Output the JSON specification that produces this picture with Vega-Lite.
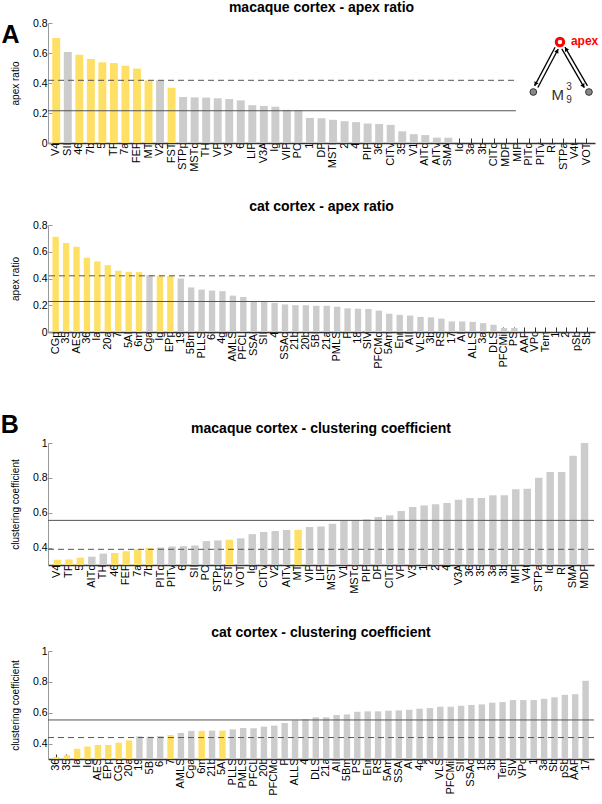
{
  "$schema": "https://vega.github.io/schema/vega-lite/v6.json",
  "padding": {"left": 0, "top": 1, "right": 0, "bottom": 0},
  "background": "#ffffff",
  "config": {
    "font": "Liberation Sans",
    "view": {"stroke": null},
    "title": {"fontSize": 14, "fontWeight": "bold", "offset": 6, "frame": "group", "color": "#000000", "font": "Liberation Sans"},
    "axisX": {"labelAngle": -90, "labelFontSize": 11, "labelPadding": 4, "tickSize": -5, "tickColor": "#333333", "domainColor": "#333333", "domainWidth": 1.5, "labelColor": "#000000", "labelFont": "Liberation Sans", "grid": false},
    "axisY": {"labelFontSize": 10.5, "labelPadding": 5, "tickSize": -4, "tickColor": "#999999", "domainColor": "#999999", "titleFontSize": 10, "titleFontWeight": "normal", "titlePadding": 12, "labelColor": "#000000", "titleColor": "#000000", "labelFont": "Liberation Sans", "titleFont": "Liberation Sans", "grid": false}
  },
  "datasets": {
    "macaque_apex": [
      {"area": "V4", "apex_ratio": 0.70, "highlight": "yes"},
      {"area": "SII", "apex_ratio": 0.607, "highlight": "no"},
      {"area": "46", "apex_ratio": 0.589, "highlight": "yes"},
      {"area": "7b", "apex_ratio": 0.56, "highlight": "yes"},
      {"area": "5", "apex_ratio": 0.538, "highlight": "yes"},
      {"area": "TF", "apex_ratio": 0.533, "highlight": "yes"},
      {"area": "7a", "apex_ratio": 0.515, "highlight": "yes"},
      {"area": "FEF", "apex_ratio": 0.496, "highlight": "yes"},
      {"area": "MT", "apex_ratio": 0.418, "highlight": "yes"},
      {"area": "V2", "apex_ratio": 0.418, "highlight": "no"},
      {"area": "FST", "apex_ratio": 0.368, "highlight": "yes"},
      {"area": "STPp", "apex_ratio": 0.307, "highlight": "no"},
      {"area": "MSTd", "apex_ratio": 0.304, "highlight": "no"},
      {"area": "TH", "apex_ratio": 0.303, "highlight": "no"},
      {"area": "VP", "apex_ratio": 0.298, "highlight": "no"},
      {"area": "V3", "apex_ratio": 0.293, "highlight": "no"},
      {"area": "6", "apex_ratio": 0.284, "highlight": "no"},
      {"area": "LIP", "apex_ratio": 0.252, "highlight": "no"},
      {"area": "V3A", "apex_ratio": 0.247, "highlight": "no"},
      {"area": "Ig", "apex_ratio": 0.242, "highlight": "no"},
      {"area": "VIP", "apex_ratio": 0.221, "highlight": "no"},
      {"area": "PO", "apex_ratio": 0.219, "highlight": "no"},
      {"area": "1", "apex_ratio": 0.167, "highlight": "no"},
      {"area": "DP", "apex_ratio": 0.165, "highlight": "no"},
      {"area": "MSTl", "apex_ratio": 0.155, "highlight": "no"},
      {"area": "2", "apex_ratio": 0.145, "highlight": "no"},
      {"area": "4", "apex_ratio": 0.139, "highlight": "no"},
      {"area": "PIP", "apex_ratio": 0.13, "highlight": "no"},
      {"area": "36", "apex_ratio": 0.127, "highlight": "no"},
      {"area": "CITv", "apex_ratio": 0.121, "highlight": "no"},
      {"area": "35", "apex_ratio": 0.078, "highlight": "no"},
      {"area": "V1", "apex_ratio": 0.059, "highlight": "no"},
      {"area": "AITd", "apex_ratio": 0.053, "highlight": "no"},
      {"area": "AITv", "apex_ratio": 0.036, "highlight": "no"},
      {"area": "SMA", "apex_ratio": 0.035, "highlight": "no"},
      {"area": "Id", "apex_ratio": 0, "highlight": "no"},
      {"area": "3a", "apex_ratio": 0, "highlight": "no"},
      {"area": "3b", "apex_ratio": 0, "highlight": "no"},
      {"area": "CITd", "apex_ratio": 0, "highlight": "no"},
      {"area": "MDP", "apex_ratio": 0, "highlight": "no"},
      {"area": "MIP", "apex_ratio": 0, "highlight": "no"},
      {"area": "PITd", "apex_ratio": 0, "highlight": "no"},
      {"area": "PITv", "apex_ratio": 0, "highlight": "no"},
      {"area": "Ri", "apex_ratio": 0, "highlight": "no"},
      {"area": "STPa", "apex_ratio": 0, "highlight": "no"},
      {"area": "V4t", "apex_ratio": 0, "highlight": "no"},
      {"area": "VOT", "apex_ratio": 0, "highlight": "no"}
    ],
    "macaque_apex_ref": [
      {"ref": "dashed", "value": 0.418, "from": 0, "to": 40.2},
      {"ref": "solid", "value": 0.215, "from": 0, "to": 40.2}
    ],
    "motif_links": [
      {"x": 41.81, "y": 0.381, "x2": 43.57, "y2": 0.638},
      {"x": 42.09, "y": 0.37, "x2": 43.84, "y2": 0.627},
      {"x": 44.15, "y": 0.627, "x2": 46.08, "y2": 0.369},
      {"x": 44.42, "y": 0.639, "x2": 46.35, "y2": 0.381}
    ],
    "motif_arrowheads": [
      {"x": 41.89, "y": 0.393, "heading": 208},
      {"x": 43.76, "y": 0.615, "heading": 28},
      {"x": 46.0, "y": 0.38, "heading": 150},
      {"x": 44.51, "y": 0.627, "heading": 330}
    ],
    "motif_nodes": [
      {"node": "apex", "x": 43.99, "y": 0.673},
      {"node": "left", "x": 41.7, "y": 0.34},
      {"node": "right", "x": 46.48, "y": 0.34}
    ],
    "motif_labels": [
      {"part": "apex", "text": "apex", "x": 44.93, "y": 0.68},
      {"part": "M", "text": "M", "x": 43.81, "y": 0.32},
      {"part": "sup", "text": "3", "x": 44.76, "y": 0.373},
      {"part": "sub", "text": "9", "x": 44.76, "y": 0.287}
    ],
    "panel_A": [{"text": "A", "x": -3.22, "y": 0.72}],
    "panel_B": [{"text": "B", "x": -3.3, "y": 1.102}],
    "cat_apex": [
      {"area": "CGp", "apex_ratio": 0.712, "highlight": "yes"},
      {"area": "35", "apex_ratio": 0.665, "highlight": "yes"},
      {"area": "AES", "apex_ratio": 0.637, "highlight": "yes"},
      {"area": "36", "apex_ratio": 0.555, "highlight": "yes"},
      {"area": "Ia", "apex_ratio": 0.528, "highlight": "yes"},
      {"area": "20a", "apex_ratio": 0.5, "highlight": "yes"},
      {"area": "7", "apex_ratio": 0.458, "highlight": "yes"},
      {"area": "5AI", "apex_ratio": 0.45, "highlight": "yes"},
      {"area": "6m", "apex_ratio": 0.448, "highlight": "yes"},
      {"area": "Cga", "apex_ratio": 0.425, "highlight": "no"},
      {"area": "Ig", "apex_ratio": 0.421, "highlight": "yes"},
      {"area": "EPp", "apex_ratio": 0.419, "highlight": "yes"},
      {"area": "19", "apex_ratio": 0.4, "highlight": "no"},
      {"area": "5Bm", "apex_ratio": 0.333, "highlight": "no"},
      {"area": "PLLS", "apex_ratio": 0.317, "highlight": "no"},
      {"area": "6l", "apex_ratio": 0.31, "highlight": "no"},
      {"area": "4g", "apex_ratio": 0.305, "highlight": "no"},
      {"area": "AMLS", "apex_ratio": 0.272, "highlight": "no"},
      {"area": "PFCL", "apex_ratio": 0.262, "highlight": "no"},
      {"area": "SSAi", "apex_ratio": 0.228, "highlight": "no"},
      {"area": "SII", "apex_ratio": 0.226, "highlight": "no"},
      {"area": "4", "apex_ratio": 0.218, "highlight": "no"},
      {"area": "SSAo", "apex_ratio": 0.206, "highlight": "no"},
      {"area": "21b", "apex_ratio": 0.201, "highlight": "no"},
      {"area": "20b", "apex_ratio": 0.2, "highlight": "no"},
      {"area": "5Bl", "apex_ratio": 0.196, "highlight": "no"},
      {"area": "21a", "apex_ratio": 0.196, "highlight": "no"},
      {"area": "PMLS", "apex_ratio": 0.189, "highlight": "no"},
      {"area": "P", "apex_ratio": 0.177, "highlight": "no"},
      {"area": "18", "apex_ratio": 0.174, "highlight": "no"},
      {"area": "SIV", "apex_ratio": 0.172, "highlight": "no"},
      {"area": "PFCMd", "apex_ratio": 0.16, "highlight": "no"},
      {"area": "5Am", "apex_ratio": 0.137, "highlight": "no"},
      {"area": "Enr", "apex_ratio": 0.128, "highlight": "no"},
      {"area": "AII", "apex_ratio": 0.123, "highlight": "no"},
      {"area": "VLS", "apex_ratio": 0.113, "highlight": "no"},
      {"area": "3b", "apex_ratio": 0.11, "highlight": "no"},
      {"area": "RS", "apex_ratio": 0.1, "highlight": "no"},
      {"area": "17", "apex_ratio": 0.079, "highlight": "no"},
      {"area": "AI", "apex_ratio": 0.079, "highlight": "no"},
      {"area": "ALLS", "apex_ratio": 0.076, "highlight": "no"},
      {"area": "3a", "apex_ratio": 0.066, "highlight": "no"},
      {"area": "DLS", "apex_ratio": 0.054, "highlight": "no"},
      {"area": "PFCMil", "apex_ratio": 0.03, "highlight": "no"},
      {"area": "PS", "apex_ratio": 0.03, "highlight": "no"},
      {"area": "AAF", "apex_ratio": 0, "highlight": "no"},
      {"area": "VPc", "apex_ratio": 0, "highlight": "no"},
      {"area": "Tem", "apex_ratio": 0, "highlight": "no"},
      {"area": "1", "apex_ratio": 0, "highlight": "no"},
      {"area": "2", "apex_ratio": 0, "highlight": "no"},
      {"area": "pSb", "apex_ratio": 0, "highlight": "no"},
      {"area": "Sb", "apex_ratio": 0, "highlight": "no"}
    ],
    "cat_apex_ref": [
      {"ref": "dashed", "value": 0.42},
      {"ref": "solid", "value": 0.228}
    ],
    "macaque_cc": [
      {"area": "V4", "clustering": 0.33, "highlight": "yes"},
      {"area": "TF", "clustering": 0.332, "highlight": "yes"},
      {"area": "5", "clustering": 0.342, "highlight": "yes"},
      {"area": "AITd", "clustering": 0.348, "highlight": "no"},
      {"area": "TH", "clustering": 0.365, "highlight": "no"},
      {"area": "46", "clustering": 0.369, "highlight": "yes"},
      {"area": "FEF", "clustering": 0.379, "highlight": "yes"},
      {"area": "7a", "clustering": 0.39, "highlight": "yes"},
      {"area": "7b", "clustering": 0.398, "highlight": "yes"},
      {"area": "PITd", "clustering": 0.4, "highlight": "no"},
      {"area": "PITv", "clustering": 0.406, "highlight": "no"},
      {"area": "6", "clustering": 0.408, "highlight": "no"},
      {"area": "SII", "clustering": 0.412, "highlight": "no"},
      {"area": "PO", "clustering": 0.437, "highlight": "no"},
      {"area": "STPp", "clustering": 0.441, "highlight": "no"},
      {"area": "FST", "clustering": 0.445, "highlight": "yes"},
      {"area": "VOT", "clustering": 0.453, "highlight": "no"},
      {"area": "Ig", "clustering": 0.477, "highlight": "no"},
      {"area": "CITv", "clustering": 0.49, "highlight": "no"},
      {"area": "V2", "clustering": 0.495, "highlight": "no"},
      {"area": "AITv", "clustering": 0.501, "highlight": "no"},
      {"area": "MT", "clustering": 0.502, "highlight": "yes"},
      {"area": "VIP", "clustering": 0.518, "highlight": "no"},
      {"area": "LIP", "clustering": 0.521, "highlight": "no"},
      {"area": "MSTl", "clustering": 0.537, "highlight": "no"},
      {"area": "V1", "clustering": 0.556, "highlight": "no"},
      {"area": "MSTd", "clustering": 0.557, "highlight": "no"},
      {"area": "PIP", "clustering": 0.562, "highlight": "no"},
      {"area": "DP", "clustering": 0.575, "highlight": "no"},
      {"area": "CITd", "clustering": 0.585, "highlight": "no"},
      {"area": "VP", "clustering": 0.61, "highlight": "no"},
      {"area": "V3", "clustering": 0.633, "highlight": "no"},
      {"area": "1", "clustering": 0.642, "highlight": "no"},
      {"area": "2", "clustering": 0.648, "highlight": "no"},
      {"area": "4", "clustering": 0.656, "highlight": "no"},
      {"area": "V3A", "clustering": 0.675, "highlight": "no"},
      {"area": "36", "clustering": 0.684, "highlight": "no"},
      {"area": "35", "clustering": 0.684, "highlight": "no"},
      {"area": "3a", "clustering": 0.7, "highlight": "no"},
      {"area": "3b", "clustering": 0.7, "highlight": "no"},
      {"area": "MIP", "clustering": 0.734, "highlight": "no"},
      {"area": "V4t", "clustering": 0.738, "highlight": "no"},
      {"area": "STPa", "clustering": 0.8, "highlight": "no"},
      {"area": "Id", "clustering": 0.834, "highlight": "no"},
      {"area": "Ri", "clustering": 0.834, "highlight": "no"},
      {"area": "SMA", "clustering": 0.927, "highlight": "no"},
      {"area": "MDP", "clustering": 1.0, "highlight": "no"}
    ],
    "macaque_cc_ref": [
      {"ref": "solid", "value": 0.556},
      {"ref": "dashed", "value": 0.39}
    ],
    "cat_cc": [
      {"area": "36", "clustering": 0.312, "highlight": "yes"},
      {"area": "35", "clustering": 0.325, "highlight": "yes"},
      {"area": "Ia", "clustering": 0.366, "highlight": "yes"},
      {"area": "Ig", "clustering": 0.381, "highlight": "yes"},
      {"area": "AES", "clustering": 0.391, "highlight": "yes"},
      {"area": "EPp", "clustering": 0.391, "highlight": "yes"},
      {"area": "CGp", "clustering": 0.406, "highlight": "yes"},
      {"area": "20a", "clustering": 0.421, "highlight": "yes"},
      {"area": "19", "clustering": 0.447, "highlight": "no"},
      {"area": "5Bl", "clustering": 0.445, "highlight": "no"},
      {"area": "6l", "clustering": 0.449, "highlight": "no"},
      {"area": "7", "clustering": 0.456, "highlight": "yes"},
      {"area": "AMLS", "clustering": 0.469, "highlight": "no"},
      {"area": "Cga", "clustering": 0.482, "highlight": "no"},
      {"area": "6m", "clustering": 0.482, "highlight": "yes"},
      {"area": "21b", "clustering": 0.484, "highlight": "no"},
      {"area": "5AI", "clustering": 0.484, "highlight": "yes"},
      {"area": "PLLS", "clustering": 0.492, "highlight": "no"},
      {"area": "PMLS", "clustering": 0.501, "highlight": "no"},
      {"area": "PFCL", "clustering": 0.499, "highlight": "no"},
      {"area": "20b", "clustering": 0.51, "highlight": "no"},
      {"area": "PFCMd", "clustering": 0.516, "highlight": "no"},
      {"area": "P", "clustering": 0.533, "highlight": "no"},
      {"area": "ALLS", "clustering": 0.551, "highlight": "no"},
      {"area": "4", "clustering": 0.559, "highlight": "no"},
      {"area": "DLS", "clustering": 0.57, "highlight": "no"},
      {"area": "21a", "clustering": 0.57, "highlight": "no"},
      {"area": "AII", "clustering": 0.585, "highlight": "no"},
      {"area": "5Bm", "clustering": 0.589, "highlight": "no"},
      {"area": "PS", "clustering": 0.606, "highlight": "no"},
      {"area": "Enr", "clustering": 0.609, "highlight": "no"},
      {"area": "RS", "clustering": 0.609, "highlight": "no"},
      {"area": "5Am", "clustering": 0.613, "highlight": "no"},
      {"area": "SSAi", "clustering": 0.615, "highlight": "no"},
      {"area": "AI", "clustering": 0.619, "highlight": "no"},
      {"area": "4g", "clustering": 0.626, "highlight": "no"},
      {"area": "2", "clustering": 0.63, "highlight": "no"},
      {"area": "VLS", "clustering": 0.639, "highlight": "no"},
      {"area": "PFCMil", "clustering": 0.639, "highlight": "no"},
      {"area": "SII", "clustering": 0.645, "highlight": "no"},
      {"area": "SSAo", "clustering": 0.65, "highlight": "no"},
      {"area": "18", "clustering": 0.654, "highlight": "no"},
      {"area": "3b", "clustering": 0.665, "highlight": "no"},
      {"area": "Tem", "clustering": 0.669, "highlight": "no"},
      {"area": "SIV", "clustering": 0.682, "highlight": "no"},
      {"area": "VPc", "clustering": 0.682, "highlight": "no"},
      {"area": "1", "clustering": 0.682, "highlight": "no"},
      {"area": "3a", "clustering": 0.69, "highlight": "no"},
      {"area": "Sb", "clustering": 0.7, "highlight": "no"},
      {"area": "pSb", "clustering": 0.716, "highlight": "no"},
      {"area": "AAF", "clustering": 0.72, "highlight": "no"},
      {"area": "17", "clustering": 0.807, "highlight": "no"}
    ],
    "cat_cc_ref": [
      {"ref": "solid", "value": 0.553},
      {"ref": "dashed", "value": 0.439}
    ]
  },
  "spacing": 44,
  "vconcat": [
    {
      "spacing": 28,
      "vconcat": [
        {
          "width": 547,
          "height": 120,
          "title": {"text": "macaque cortex - apex ratio", "offset": 3},
          "layer": [
            {
              "data": {"name": "macaque_apex"},
              "mark": {"type": "bar"},
              "encoding": {
                "x": {"field": "area", "type": "nominal", "sort": null, "title": null, "scale": {"paddingInner": 0.31, "paddingOuter": 0.37}},
                "y": {"field": "apex_ratio", "type": "quantitative", "title": "apex ratio", "scale": {"domain": [0, 0.8], "nice": false}, "axis": {"values": [0, 0.2, 0.4, 0.6, 0.8], "format": "~g"}},
                "color": {"field": "highlight", "type": "nominal", "scale": {"domain": ["yes", "no"], "range": ["#FFE066", "#CCCCCC"]}, "legend": null}
              }
            },
            {
              "data": {"name": "macaque_apex_ref"},
              "mark": {"type": "rule", "color": "#555555", "strokeWidth": 1},
              "encoding": {
                "x": {"field": "from", "type": "quantitative", "scale": {"domain": [0, 47], "nice": false, "zero": false}, "axis": null},
                "x2": {"field": "to"},
                "y": {"field": "value", "type": "quantitative", "title": "apex ratio", "scale": {"domain": [0, 0.8], "nice": false}, "axis": {"values": [0, 0.2, 0.4, 0.6, 0.8], "format": "~g"}},
                "strokeDash": {"field": "ref", "type": "nominal", "scale": {"domain": ["dashed", "solid"], "range": [[6, 4], [1, 0]]}, "legend": null}
              }
            },
            {
              "data": {"name": "motif_links"},
              "mark": {"type": "rule", "color": "#000000", "strokeWidth": 1.3},
              "encoding": {
                "x": {"field": "x", "type": "quantitative", "scale": {"domain": [0, 47], "nice": false, "zero": false}, "axis": null},
                "x2": {"field": "x2"},
                "y": {"field": "y", "type": "quantitative", "title": "apex ratio", "scale": {"domain": [0, 0.8], "nice": false}, "axis": {"values": [0, 0.2, 0.4, 0.6, 0.8], "format": "~g"}},
                "y2": {"field": "y2"}
              }
            },
            {
              "data": {"name": "motif_arrowheads"},
              "mark": {"type": "point", "shape": "triangle-up", "filled": true, "color": "#000000", "size": 22, "opacity": 1},
              "encoding": {
                "x": {"field": "x", "type": "quantitative", "scale": {"domain": [0, 47], "nice": false, "zero": false}, "axis": null},
                "y": {"field": "y", "type": "quantitative", "title": "apex ratio", "scale": {"domain": [0, 0.8], "nice": false}, "axis": {"values": [0, 0.2, 0.4, 0.6, 0.8], "format": "~g"}},
                "angle": {"field": "heading", "type": "quantitative", "scale": null}
              }
            },
            {
              "data": {"name": "motif_nodes"},
              "transform": [{"filter": "datum.node != 'apex'"}],
              "mark": {"type": "point", "shape": "circle", "filled": true, "fill": "#888888", "stroke": "#333333", "strokeWidth": 1, "size": 45, "opacity": 1},
              "encoding": {
                "x": {"field": "x", "type": "quantitative", "scale": {"domain": [0, 47], "nice": false, "zero": false}, "axis": null},
                "y": {"field": "y", "type": "quantitative", "title": "apex ratio", "scale": {"domain": [0, 0.8], "nice": false}, "axis": {"values": [0, 0.2, 0.4, 0.6, 0.8], "format": "~g"}}
              }
            },
            {
              "data": {"name": "motif_nodes"},
              "transform": [{"filter": "datum.node == 'apex'"}],
              "mark": {"type": "point", "shape": "circle", "filled": true, "fill": "#ffffff", "stroke": "#ff0000", "strokeWidth": 3, "size": 55, "opacity": 1},
              "encoding": {
                "x": {"field": "x", "type": "quantitative", "scale": {"domain": [0, 47], "nice": false, "zero": false}, "axis": null},
                "y": {"field": "y", "type": "quantitative", "title": "apex ratio", "scale": {"domain": [0, 0.8], "nice": false}, "axis": {"values": [0, 0.2, 0.4, 0.6, 0.8], "format": "~g"}}
              }
            },
            {
              "data": {"name": "motif_labels"},
              "transform": [{"filter": "datum.part == 'apex'"}],
              "mark": {"type": "text", "align": "left", "baseline": "middle", "fontSize": 12, "fontWeight": "bold", "color": "#ff0000"},
              "encoding": {
                "x": {"field": "x", "type": "quantitative", "scale": {"domain": [0, 47], "nice": false, "zero": false}, "axis": null},
                "y": {"field": "y", "type": "quantitative", "title": "apex ratio", "scale": {"domain": [0, 0.8], "nice": false}, "axis": {"values": [0, 0.2, 0.4, 0.6, 0.8], "format": "~g"}},
                "text": {"field": "text"}
              }
            },
            {
              "data": {"name": "motif_labels"},
              "transform": [{"filter": "datum.part == 'M'"}],
              "mark": {"type": "text", "align": "center", "baseline": "middle", "fontSize": 15, "color": "#333333"},
              "encoding": {
                "x": {"field": "x", "type": "quantitative", "scale": {"domain": [0, 47], "nice": false, "zero": false}, "axis": null},
                "y": {"field": "y", "type": "quantitative", "title": "apex ratio", "scale": {"domain": [0, 0.8], "nice": false}, "axis": {"values": [0, 0.2, 0.4, 0.6, 0.8], "format": "~g"}},
                "text": {"field": "text"}
              }
            },
            {
              "data": {"name": "motif_labels"},
              "transform": [{"filter": "datum.part != 'M' && datum.part != 'apex'"}],
              "mark": {"type": "text", "align": "center", "baseline": "middle", "fontSize": 10, "color": "#333333"},
              "encoding": {
                "x": {"field": "x", "type": "quantitative", "scale": {"domain": [0, 47], "nice": false, "zero": false}, "axis": null},
                "y": {"field": "y", "type": "quantitative", "title": "apex ratio", "scale": {"domain": [0, 0.8], "nice": false}, "axis": {"values": [0, 0.2, 0.4, 0.6, 0.8], "format": "~g"}},
                "text": {"field": "text"}
              }
            },
            {
              "data": {"name": "panel_A"},
              "mark": {"type": "text", "align": "center", "baseline": "middle", "fontSize": 25, "fontWeight": "bold", "color": "#000000"},
              "encoding": {
                "x": {"field": "x", "type": "quantitative", "scale": {"domain": [0, 47], "nice": false, "zero": false}, "axis": null},
                "y": {"field": "y", "type": "quantitative", "title": "apex ratio", "scale": {"domain": [0, 0.8], "nice": false}, "axis": {"values": [0, 0.2, 0.4, 0.6, 0.8], "format": "~g"}},
                "text": {"field": "text"}
              }
            }
          ],
          "resolve": {"scale": {"x": "independent"}}
        },
        {
          "width": 547,
          "height": 107,
          "title": "cat cortex - apex ratio",
          "layer": [
            {
              "data": {"name": "cat_apex"},
              "mark": {"type": "bar"},
              "encoding": {
                "x": {"field": "area", "type": "nominal", "sort": null, "title": null, "scale": {"paddingInner": 0.39, "paddingOuter": 0.43}},
                "y": {"field": "apex_ratio", "type": "quantitative", "title": "apex ratio", "scale": {"domain": [0, 0.8], "nice": false}, "axis": {"values": [0, 0.2, 0.4, 0.6, 0.8], "format": "~g"}},
                "color": {"field": "highlight", "type": "nominal", "scale": {"domain": ["yes", "no"], "range": ["#FFE066", "#CCCCCC"]}, "legend": null}
              }
            },
            {
              "data": {"name": "cat_apex_ref"},
              "mark": {"type": "rule", "color": "#555555", "strokeWidth": 1},
              "encoding": {
                "y": {"field": "value", "type": "quantitative", "title": "apex ratio", "scale": {"domain": [0, 0.8], "nice": false}, "axis": {"values": [0, 0.2, 0.4, 0.6, 0.8], "format": "~g"}},
                "strokeDash": {"field": "ref", "type": "nominal", "scale": {"domain": ["dashed", "solid"], "range": [[6, 4], [1, 0]]}, "legend": null}
              }
            }
          ]
        }
      ]
    },
    {
      "spacing": 32,
      "vconcat": [
        {
          "width": 546,
          "height": 122,
          "title": {"text": "macaque cortex - clustering coefficient", "dy": 29},
          "layer": [
            {
              "data": {"name": "macaque_cc"},
              "mark": {"type": "bar", "clip": true},
              "encoding": {
                "x": {"field": "area", "type": "nominal", "sort": null, "title": null, "scale": {"paddingInner": 0.35, "paddingOuter": 0.5}},
                "y": {"field": "clustering", "type": "quantitative", "title": "clustering coefficient", "scale": {"domain": [0.3, 1], "nice": false, "zero": false}, "axis": {"values": [0.4, 0.6, 0.8, 1], "format": "~g"}},
                "color": {"field": "highlight", "type": "nominal", "scale": {"domain": ["yes", "no"], "range": ["#FFE066", "#CCCCCC"]}, "legend": null}
              }
            },
            {
              "data": {"name": "macaque_cc_ref"},
              "mark": {"type": "rule", "color": "#555555", "strokeWidth": 1},
              "encoding": {
                "y": {"field": "value", "type": "quantitative", "title": "clustering coefficient", "scale": {"domain": [0.3, 1], "nice": false, "zero": false}, "axis": {"values": [0.4, 0.6, 0.8, 1], "format": "~g"}},
                "strokeDash": {"field": "ref", "type": "nominal", "scale": {"domain": ["dashed", "solid"], "range": [[6, 4], [1, 0]]}, "legend": null}
              }
            },
            {
              "data": {"name": "panel_B"},
              "mark": {"type": "text", "align": "center", "baseline": "middle", "fontSize": 25, "fontWeight": "bold", "color": "#000000"},
              "encoding": {
                "x": {"field": "x", "type": "quantitative", "scale": {"domain": [0, 47], "nice": false, "zero": false}, "axis": null},
                "y": {"field": "y", "type": "quantitative", "title": "clustering coefficient", "scale": {"domain": [0.3, 1], "nice": false, "zero": false}, "axis": {"values": [0.4, 0.6, 0.8, 1], "format": "~g"}},
                "text": {"field": "text"}
              }
            }
          ],
          "resolve": {"scale": {"x": "independent"}}
        },
        {
          "width": 546,
          "height": 108,
          "title": "cat cortex - clustering coefficient",
          "layer": [
            {
              "data": {"name": "cat_cc"},
              "mark": {"type": "bar", "clip": true},
              "encoding": {
                "x": {"field": "area", "type": "nominal", "sort": null, "title": null, "scale": {"paddingInner": 0.38, "paddingOuter": 0.5}},
                "y": {"field": "clustering", "type": "quantitative", "title": "clustering coefficient", "scale": {"domain": [0.3, 1], "nice": false, "zero": false}, "axis": {"values": [0.4, 0.6, 0.8, 1], "format": "~g"}},
                "color": {"field": "highlight", "type": "nominal", "scale": {"domain": ["yes", "no"], "range": ["#FFE066", "#CCCCCC"]}, "legend": null}
              }
            },
            {
              "data": {"name": "cat_cc_ref"},
              "mark": {"type": "rule", "color": "#555555", "strokeWidth": 1},
              "encoding": {
                "y": {"field": "value", "type": "quantitative", "title": "clustering coefficient", "scale": {"domain": [0.3, 1], "nice": false, "zero": false}, "axis": {"values": [0.4, 0.6, 0.8, 1], "format": "~g"}},
                "strokeDash": {"field": "ref", "type": "nominal", "scale": {"domain": ["dashed", "solid"], "range": [[6, 4], [1, 0]]}, "legend": null}
              }
            }
          ]
        }
      ]
    }
  ]
}
